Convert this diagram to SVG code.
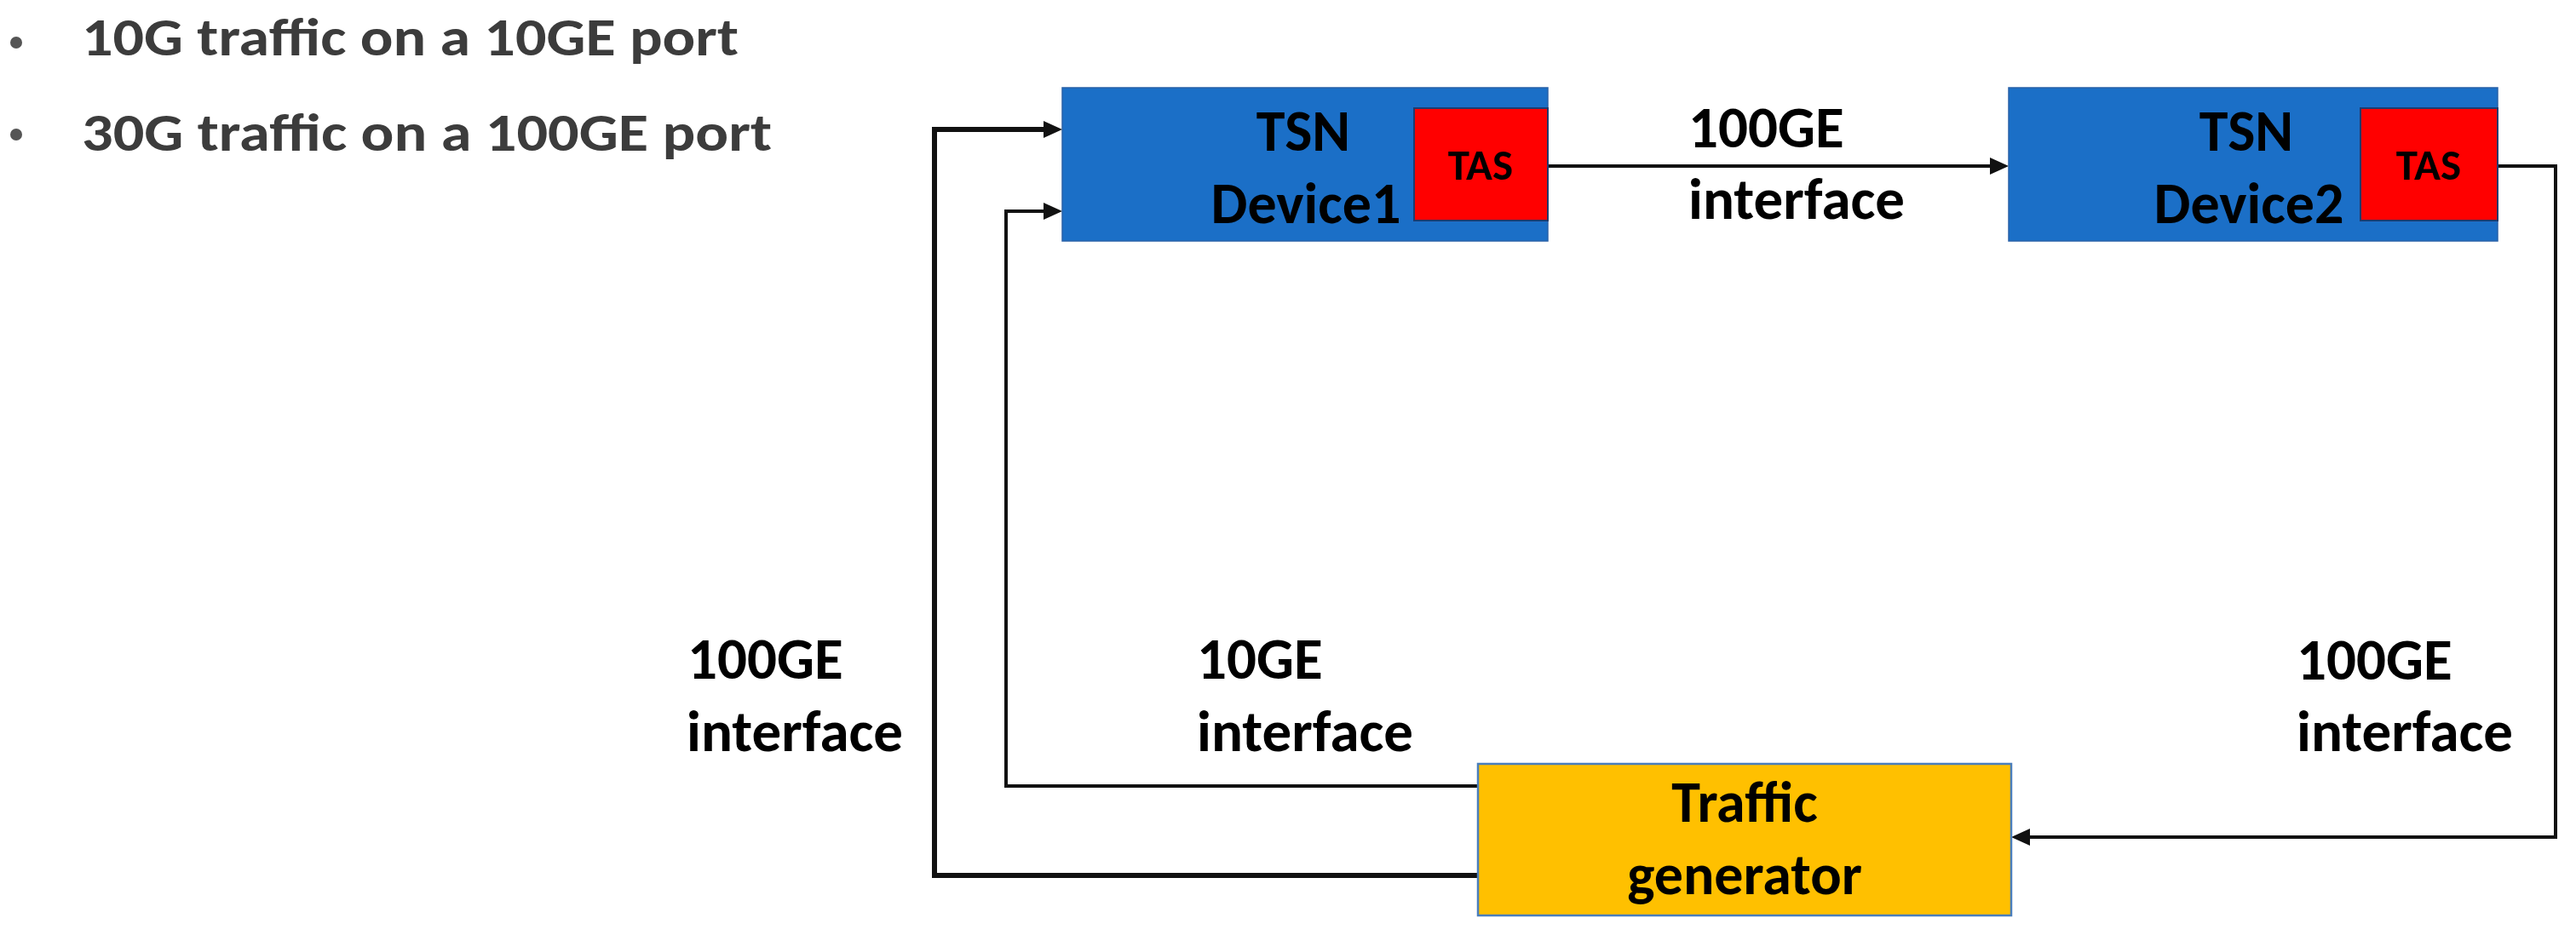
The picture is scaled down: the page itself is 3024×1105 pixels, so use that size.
<svg xmlns="http://www.w3.org/2000/svg" width="3024" height="1105" viewBox="0 0 3024 1105">
  <style>
    .t { font-family: "Carlito", "Liberation Sans", Arial, sans-serif; font-weight: bold; fill: #000; }
    .big { font-size: 68px; }
    .lbl { font-size: 69px; }
    .tas { font-size: 51px; }
    .bul { font-family: "Carlito", "Liberation Sans", Arial, sans-serif; font-weight: bold; font-size: 62px; fill: #3c3c3c; }
    .dev { fill: #1b6fc7; stroke: #2a62a8; stroke-width: 1.5; }
    .tasbox { fill: #ff0000; stroke: #1f3b6e; stroke-width: 2; }
    .tg { fill: #ffc000; stroke: #4a7ebb; stroke-width: 2.5; }
    .conn { fill: none; stroke: #111; stroke-width: 4; stroke-linejoin: miter; stroke-linecap: butt; }
    .thick { stroke-width: 6; }
  </style>
  <defs>
    <marker id="arrow" markerUnits="userSpaceOnUse" markerWidth="24" markerHeight="22" refX="10" refY="10" orient="auto">
      <path d="M0,0 L22,10 L0,20 Z" fill="#111"/>
    </marker>
  </defs>
  <rect width="3024" height="1105" fill="#ffffff"/>

  <g id="bullets">
    <circle cx="19" cy="50" r="7" fill="#555555"/>
    <text class="bul" x="96" y="65" textLength="771" lengthAdjust="spacingAndGlyphs">10G traffic on a 10GE port</text>
    <circle cx="19" cy="158" r="7" fill="#555555"/>
    <text class="bul" x="96" y="177" textLength="810" lengthAdjust="spacingAndGlyphs">30G traffic on a 100GE port</text>
  </g>

  <g id="connectors">
    <path class="conn" d="M1817,195 H2346" marker-end="url(#arrow)"/>
    <path class="conn" d="M2932,195 H3000 V983 H2373" marker-end="url(#arrow)"/>
    <path class="conn" d="M1735,923 H1181 V248 H1235" marker-end="url(#arrow)"/>
    <path class="conn thick" d="M1735,1028 H1097 V152 H1235" marker-end="url(#arrow)"/>
  </g>

  <g id="device1">
    <rect class="dev" x="1247" y="103" width="570" height="180"/>
    <rect class="tasbox" x="1660" y="127" width="157" height="132"/>
    <text class="t big" x="1530" y="177" text-anchor="middle">TSN</text>
    <text class="t big" x="1533" y="262" text-anchor="middle">Device1</text>
    <text class="t tas" x="1738" y="211" text-anchor="middle">TAS</text>
  </g>

  <g id="device2">
    <rect class="dev" x="2358" y="103" width="574" height="180"/>
    <rect class="tasbox" x="2771" y="127" width="161" height="132"/>
    <text class="t big" x="2637" y="177" text-anchor="middle">TSN</text>
    <text class="t big" x="2640" y="262" text-anchor="middle">Device2</text>
    <text class="t tas" x="2851" y="211" text-anchor="middle">TAS</text>
  </g>

  <g id="traffic-generator">
    <rect class="tg" x="1735" y="897" width="626" height="178"/>
    <text class="t big" x="2048" y="965" text-anchor="middle">Traffic</text>
    <text class="t big" x="2048" y="1050" text-anchor="middle">generator</text>
  </g>

  <g id="labels">
    <text class="t lbl" x="1982" y="173">100GE</text>
    <text class="t lbl" x="1982" y="257">interface</text>
    <text class="t lbl" x="807" y="797">100GE</text>
    <text class="t lbl" x="806" y="882">interface</text>
    <text class="t lbl" x="1405" y="797">10GE</text>
    <text class="t lbl" x="1405" y="882">interface</text>
    <text class="t lbl" x="2696" y="798">100GE</text>
    <text class="t lbl" x="2696" y="882">interface</text>
  </g>
</svg>
